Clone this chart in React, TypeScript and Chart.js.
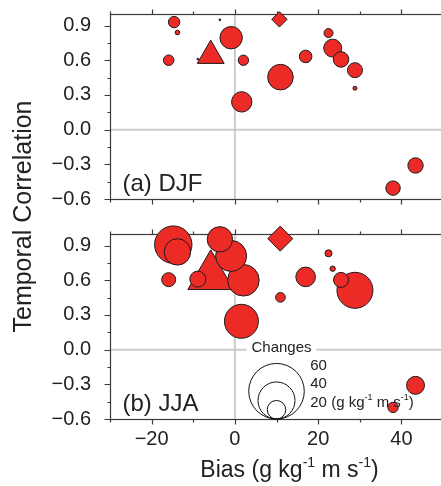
import React, { useEffect, useRef } from "react";
import { Chart, registerables } from "chart.js";

Chart.register(...registerables);

// ---------------- data ----------------
const xMajorTicks = [-20, 0, 20, 40];
const xMinorTicks = [-30, -10, 10, 30, 50];
const yMajorTicks = [-0.6, -0.3, 0, 0.3, 0.6, 0.9];
const yMinorTicks = [-0.45, -0.15, 0.15, 0.45, 0.75];

// DJF models (bias, temporal correlation, changes)
const djfBias = [10.95, -0.9, 1.65, 23.5, 25.5, 43.4, 28.85, 38.0, 17.0, -14.6, -15.9, 2.05, 22.5, -13.8, 28.85, -3.6, -8.9];
const djfCorr = [0.454, 0.795, 0.24, 0.705, 0.607, -0.31, 0.514, -0.506, 0.633, 0.93, 0.6, 0.6, 0.835, 0.84, 0.358, 0.95, 0.61];
const djfChange = [27.6, 24.2, 22, 19.4, 16.8, 16.6, 16.2, 15.6, 13.6, 12.3, 11.4, 11.2, 9.7, 5, 4.3, 2, 2];

// DJF special markers (triangle, diamond)
const djfMarkBias = [-5.8, 10.7];
const djfMarkCorr = [0.64, 0.954];
const djfMarkChange = [33.5, 16.6];

// JJA models
const jjaBias = [-14.8, 28.85, 1.57, 2.05, -0.9, -13.8, -3.6, 17.0, 43.4, -8.9, 25.5, -15.9, 38.0, 10.95, 22.5, 23.5];
const jjaCorr = [0.908, 0.513, 0.245, 0.6, 0.81, 0.845, 0.954, 0.629, -0.309, 0.61, 0.603, 0.605, -0.5, 0.452, 0.833, 0.7];
const jjaChange = [40.4, 38.9, 36.7, 34.1, 33.5, 28.5, 27.4, 21.2, 19.4, 17.3, 16.2, 15.1, 11.2, 10.4, 7.6, 5.8];

// JJA special markers
const jjaMarkBias = [-5.8, 10.9];
const jjaMarkCorr = [0.634, 0.96];
const jjaMarkChange = [57.2, 27];

const markerStyles = ["triangle", "rectRot"];
const legendChanges = [60, 40, 20];
const legendTitle = "Changes";
const panelLabels = ["(a) DJF", "(b) JJA"];
const yTitle = "Temporal Correlation";

// ---------------- style ----------------
const FAMILY = '"Liberation Sans", Arial, Helvetica, sans-serif';
const RED = "#ED2B26";
const EDGE = "#1c1c1c";
const TEXT = "#222222";
const FRAME = "#3a3a3a";
const ZERO = "#cbcbcb";
const PX_PER_CHANGE = 0.463;

const fmtY = (v: number) => {
  const s = Math.abs(v).toFixed(1);
  return v < -1e-9 ? "\u2212" + s : s;
};
const fmtX = (v: number) => (v < 0 ? "\u2212" + Math.abs(v) : String(v));

type Part = [string, boolean];

function drawRich(ctx: CanvasRenderingContext2D, parts: Part[], x: number, y: number, size: number, align: "center" | "left") {
  const big = `${size}px ${FAMILY}`;
  const supSize = Math.round(size * 0.62);
  const small = `${supSize}px ${FAMILY}`;
  let w = 0;
  for (const [t, sup] of parts) {
    ctx.font = sup ? small : big;
    w += ctx.measureText(t).width;
  }
  let cx = align === "center" ? x - w / 2 : x;
  ctx.textAlign = "left";
  ctx.textBaseline = "middle";
  for (const [t, sup] of parts) {
    ctx.font = sup ? small : big;
    ctx.fillText(t, cx, sup ? y - size * 0.34 : y);
    cx += ctx.measureText(t).width;
  }
}

const decorPlugin = {
  id: "panelDecor",
  beforeDatasetsDraw(chart: any) {
    const { ctx, chartArea, scales } = chart;
    const xs = scales.x;
    const left = Math.round(chartArea.left) + 0.5;
    const right = chartArea.right;
    ctx.save();
    for (const id of ["yTop", "yBot"]) {
      const ys = scales[id];
      const top = Math.round(ys.top) + 0.5;
      const bottom = Math.round(ys.bottom) + 0.5;
      // zero lines
      ctx.strokeStyle = ZERO;
      ctx.lineWidth = 2;
      const x0 = xs.getPixelForValue(0);
      const y0 = ys.getPixelForValue(0);
      ctx.beginPath();
      ctx.moveTo(x0, top);
      ctx.lineTo(x0, bottom);
      ctx.moveTo(left, y0);
      ctx.lineTo(right, y0);
      ctx.stroke();
      // frame
      ctx.strokeStyle = FRAME;
      ctx.lineWidth = 1.2;
      ctx.strokeRect(left, top, right - left, bottom - top);
      // ticks
      ctx.beginPath();
      const xt = (vals: number[], len: number) => {
        for (const v of vals) {
          const p = Math.round(xs.getPixelForValue(v)) + 0.5;
          ctx.moveTo(p, top);
          ctx.lineTo(p, top - len);
          ctx.moveTo(p, bottom);
          ctx.lineTo(p, bottom + len);
        }
      };
      const yt = (vals: number[], len: number) => {
        for (const v of vals) {
          const p = Math.round(ys.getPixelForValue(v)) + 0.5;
          ctx.moveTo(left, p);
          ctx.lineTo(left - len, p);
        }
      };
      xt(xMajorTicks, 5);
      xt(xMinorTicks, 3);
      yt(yMajorTicks, 6);
      yt(yMinorTicks, 3);
      ctx.stroke();
    }
    ctx.restore();
  },
  afterDatasetsDraw(chart: any) {
    const { ctx, chartArea, scales } = chart;
    const xs = scales.x;
    ctx.save();
    ctx.fillStyle = TEXT;
    // panel labels
    ["yTop", "yBot"].forEach((id, i) => {
      const ys = scales[id];
      ctx.font = `24px ${FAMILY}`;
      ctx.textAlign = "left";
      ctx.textBaseline = "alphabetic";
      ctx.fillText(panelLabels[i], chartArea.left + 12.5, ys.bottom - 8);
    });
    // size legend in JJA panel
    const yb = scales.yBot;
    const xc = xs.getPixelForValue(10);
    const base = yb.getPixelForValue(-0.6);
    const y0 = yb.getPixelForValue(0);
    ctx.fillStyle = "#ffffff";
    ctx.fillRect(xc - 30, y0 - 9, 70, 16);
    ctx.fillStyle = TEXT;
    ctx.font = `15px ${FAMILY}`;
    ctx.textAlign = "center";
    ctx.textBaseline = "middle";
    ctx.fillText(legendTitle, xc + 5, y0 - 2);
    ctx.strokeStyle = "#111111";
    ctx.lineWidth = 1;
    const rMax = legendChanges[0] * PX_PER_CHANGE;
    legendChanges.forEach((c, i) => {
      const r = c * PX_PER_CHANGE;
      ctx.beginPath();
      ctx.arc(xc, base - r, r, 0, Math.PI * 2);
      ctx.stroke();
      const ly = base - 2 * r + 2;
      const lx = xc + rMax + 6;
      if (i === legendChanges.length - 1) {
        drawRich(ctx, [[String(c) + " (g kg", false], ["-1", true], [" m s", false], ["-1", true], [")", false]], lx, ly, 15, "left");
      } else {
        drawRich(ctx, [[String(c), false]], lx, ly, 15, "left");
      }
    });
    // x axis title
    drawRich(
      ctx,
      [["Bias (g kg", false], ["-1", true], [" m s", false], ["-1", true], [")", false]],
      (chartArea.left + chartArea.right) / 2 + 13,
      xs.bottom - 15.5,
      23,
      "center"
    );
    ctx.restore();
  },
};

function yPanelScale(weight: number) {
  return {
    type: "linear" as const,
    position: "left" as const,
    stack: "panels",
    stackWeight: 185,
    weight,
    min: -0.6,
    max: 1.0,
    afterBuildTicks: (s: any) => {
      s.ticks = yMajorTicks.map((v) => ({ value: v }));
    },
    ticks: {
      autoSkip: false,
      padding: 13,
      color: TEXT,
      font: { family: FAMILY, size: 20 },
      callback: (v: any) => fmtY(Number(v)),
    },
    grid: { display: true, drawOnChartArea: false, drawTicks: true, tickLength: 6, color: "rgba(0,0,0,0)", tickColor: "rgba(0,0,0,0)" },
    border: { display: false },
    afterFit: (s: any) => {
      s.width = 110;
      s.paddingTop = 0;
      s.paddingBottom = 0;
    },
  };
}

const toPoints = (xs: number[], ys: number[], cs: number[]) =>
  xs.map((x, i) => ({ x, y: ys[i], r: cs[i] * PX_PER_CHANGE }));

export default function App() {
  const ref = useRef<HTMLCanvasElement>(null);
  useEffect(() => {
    if (!ref.current) return;
    const common = {
      backgroundColor: RED,
      borderColor: EDGE,
      borderWidth: 1,
      hoverBorderWidth: 1,
      clip: false as any,
    };
    const chart = new Chart(ref.current, {
      type: "bubble",
      data: {
        datasets: [
          { ...common, label: "DJF", yAxisID: "yTop", pointStyle: "circle", data: toPoints(djfBias, djfCorr, djfChange) },
          { ...common, label: "DJF markers", yAxisID: "yTop", pointStyle: markerStyles as any, data: toPoints(djfMarkBias, djfMarkCorr, djfMarkChange) },
          { ...common, label: "JJA", yAxisID: "yBot", pointStyle: "circle", data: toPoints(jjaBias, jjaCorr, jjaChange) },
          { ...common, label: "JJA markers", yAxisID: "yBot", pointStyle: markerStyles as any, data: toPoints(jjaMarkBias, jjaMarkCorr, jjaMarkChange) },
        ],
      },
      options: {
        responsive: false,
        animation: false,
        events: [],
        layout: { autoPadding: false, padding: { top: 14, left: 0, right: 0, bottom: 0 } },
        plugins: { legend: { display: false }, tooltip: { enabled: false } },
        scales: {
          x: {
            type: "linear",
            position: "bottom",
            min: -30,
            max: 50,
            afterBuildTicks: (s: any) => {
              s.ticks = xMajorTicks.map((v) => ({ value: v }));
            },
            ticks: {
              autoSkip: false,
              maxRotation: 0,
              padding: 3,
              color: TEXT,
              font: { family: FAMILY, size: 20 },
              callback: (v: any) => fmtX(Number(v)),
            },
            grid: { display: true, drawOnChartArea: false, drawTicks: true, tickLength: 5, color: "rgba(0,0,0,0)", tickColor: "rgba(0,0,0,0)" },
            border: { display: false },
            afterFit: (s: any) => {
              s.height = 67;
              s.paddingLeft = 0;
              s.paddingRight = 0;
            },
          },
          yTop: yPanelScale(3),
          yGap: {
            type: "linear",
            position: "left",
            stack: "panels",
            stackWeight: 35,
            weight: 2,
            min: 0,
            max: 1,
            ticks: { display: false },
            grid: { display: false, drawTicks: false },
            border: { display: false },
            title: {
              display: true,
              text: yTitle,
              color: TEXT,
              font: { family: FAMILY, size: 25 },
              padding: { top: 9, bottom: 0 },
            },
            afterFit: (s: any) => {
              s.width = 110;
              s.paddingTop = 0;
              s.paddingBottom = 0;
            },
          },
          yBot: yPanelScale(1),
        } as any,
      },
      plugins: [decorPlugin],
    });
    return () => chart.destroy();
  }, []);
  return (
    <div style={{ position: "absolute", left: 0, top: 0, width: 441, height: 486, overflow: "hidden", background: "#fff" }}>
      <canvas ref={ref} width={443} height={486} style={{ display: "block" }} />
    </div>
  );
}
